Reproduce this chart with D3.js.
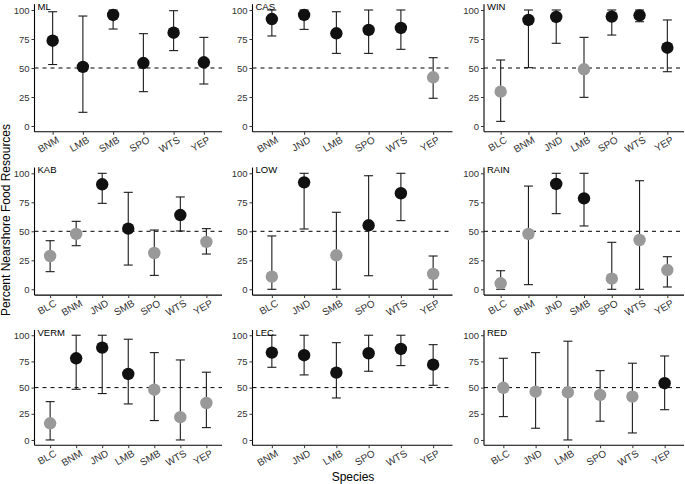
<!DOCTYPE html>
<html>
<head>
<meta charset="utf-8">
<script src="https://cdn.jsdelivr.net/npm/d3@7"></script>
<style>
  body { margin: 0; background: #fff; }
  svg { font-family: "Liberation Sans", Arial, sans-serif; }
</style>
</head>
<body>
<div id="chart"></div>
<script>
// one entry per facet, read left-to-right, top-to-bottom
var sites = ["ML", "CAS", "WIN", "KAB", "LOW", "RAIN", "VERM", "LEC", "RED"];

var speciesBySite = [
    ["BNM", "LMB", "SMB", "SPO", "WTS", "YEP"],
    ["BNM", "JND", "LMB", "SPO", "WTS", "YEP"],
    ["BLC", "BNM", "JND", "LMB", "SPO", "WTS", "YEP"],
    ["BLC", "BNM", "JND", "SMB", "SPO", "WTS", "YEP"],
    ["BLC", "JND", "SMB", "SPO", "WTS", "YEP"],
    ["BLC", "BNM", "JND", "SMB", "SPO", "WTS", "YEP"],
    ["BLC", "BNM", "JND", "LMB", "SMB", "WTS", "YEP"],
    ["BNM", "JND", "LMB", "SPO", "WTS", "YEP"],
    ["BLC", "JND", "LMB", "SPO", "WTS", "YEP"]
];

var meanBySite = [
    [73.5, 51, 95.7, 54.3, 80.4, 54.9],
    [92.2, 95.7, 79.9, 82.8, 84.5, 42],
    [29.6, 91.4, 94, 48.9, 94.3, 95.4, 67.5],
    [28.7, 47.7, 90.5, 52.3, 31.3, 64, 40.8],
    [10.9, 92.2, 29.3, 55.2, 82.8, 13.2],
    [5.2, 47.7, 90.8, 78.4, 9.2, 42.5, 16.6],
    [15.9, 78, 88.2, 63, 48, 21.7, 35.3],
    [83.4, 80.9, 64.3, 82.8, 86.9, 71.9],
    [49.8, 46.1, 45.5, 43, 41.4, 54.2]
];

var lowBySite = [
    [53, 11.8, 83.6, 29.6, 65, 36.2],
    [77.6, 83.3, 62.6, 62.6, 66.1, 23.9],
    [4, 50.3, 71.3, 24.7, 78.4, 89.9, 46.8],
    [15.2, 37.6, 74.1, 20.9, 12, 50.3, 30.4],
    [0, 52, 0, 11.7, 59.2, 0],
    [0, 4, 65.2, 54.6, 0, 0, 2],
    [0, 48.4, 44.3, 34.4, 18.5, 0, 11.8],
    [69.4, 62.1, 40.1, 65.6, 71, 52.2],
    [22.3, 11.2, 0, 17.9, 6.7, 28.9]
];

var highBySite = [
    [98.5, 94.8, 100, 79.6, 99.4, 76.4],
    [100, 100, 98.5, 100, 100, 58.9],
    [56.9, 100, 100, 76.4, 100, 100, 91.4],
    [41.9, 58.6, 100, 83.6, 51.1, 79.6, 52.3],
    [46, 100, 66.4, 97.9, 100, 28.7],
    [16, 89, 100, 100, 40.5, 93.6, 28.1],
    [36.6, 100, 100, 96.2, 83.4, 76.4, 64.7],
    [100, 100, 92.9, 100, 100, 91],
    [78, 83.4, 94.3, 66.2, 73.3, 80.2]
];

var yTicks = [0, 25, 50, 75, 100];
var threshold = 50;

var W = 685, H = 484;
// panel frames (pixel rectangles of the three columns / rows)
var colX = [[34.5, 222], [252.5, 452.5], [484, 684]];
var rowY = [[4.2, 131.8], [167.5, 295.1], [330, 445.2]];

var svg = d3.select("#chart").append("svg")
    .attr("width", W)
    .attr("height", H);

sites.forEach(function(site, i) {
    var cx = colX[i % 3], ry = rowY[Math.floor(i / 3)];
    var species = speciesBySite[i];
    var rows = species.map(function(s, k) {
        return {sp: s, mean: meanBySite[i][k], lo: lowBySite[i][k], hi: highBySite[i][k]};
    });

    // ggplot-ish expansion: 0.6 units for discrete, 5% for continuous
    var x = d3.scalePoint().domain(species).range(cx).padding(0.6);
    var y = d3.scaleLinear().domain([-5, 105]).range([ry[1], ry[0]]);

    var g = svg.append("g");

    // reference line
    g.append("line")
        .attr("x1", cx[0]).attr("x2", cx[1])
        .attr("y1", y(threshold)).attr("y2", y(threshold))
        .attr("stroke", "#000")
        .attr("stroke-width", 1)
        .attr("stroke-dasharray", "4,4");

    // error bars
    var eb = g.append("g").selectAll("g").data(rows).enter().append("g")
        .attr("stroke", "#1a1a1a").attr("stroke-width", 1.1);
    eb.append("line")
        .attr("x1", function(d) { return x(d.sp); })
        .attr("x2", function(d) { return x(d.sp); })
        .attr("y1", function(d) { return y(d.lo); })
        .attr("y2", function(d) { return y(d.hi); });
    eb.append("line")
        .attr("x1", function(d) { return x(d.sp) - 4.5; })
        .attr("x2", function(d) { return x(d.sp) + 4.5; })
        .attr("y1", function(d) { return y(d.hi); })
        .attr("y2", function(d) { return y(d.hi); });
    eb.append("line")
        .attr("x1", function(d) { return x(d.sp) - 4.5; })
        .attr("x2", function(d) { return x(d.sp) + 4.5; })
        .attr("y1", function(d) { return y(d.lo); })
        .attr("y2", function(d) { return y(d.lo); });

    // points, black above the 50% line, grey below
    g.append("g").selectAll("circle").data(rows).enter().append("circle")
        .attr("cx", function(d) { return x(d.sp); })
        .attr("cy", function(d) { return y(d.mean); })
        .attr("r", 6.2)
        .attr("fill", function(d) { return d.mean > threshold ? "#111" : "#999"; });

    // axes
    var yAxis = g.append("g")
        .attr("transform", "translate(" + cx[0] + ",0)")
        .call(d3.axisLeft(y).tickValues(yTicks).tickSize(3).tickPadding(2));
    var xAxis = g.append("g")
        .attr("transform", "translate(0," + ry[1] + ")")
        .call(d3.axisBottom(x).tickSize(3).tickPadding(2));

    [yAxis, xAxis].forEach(function(ax) {
        ax.select(".domain").attr("stroke", "#000").attr("stroke-width", 1.1);
        ax.selectAll(".tick line").attr("stroke", "#333");
        ax.selectAll("text").attr("fill", "#333").style("font-size", "9.5px");
    });
    yAxis.select(".domain").attr("d", "M0," + ry[1] + "V" + ry[0]);
    xAxis.select(".domain").attr("d", "M" + cx[0] + ",0H" + cx[1]);

    xAxis.selectAll(".tick text")
        .style("font-size", "10px")
        .attr("text-anchor", "end")
        .attr("x", 3)
        .attr("y", 4)
        .attr("dy", "0.71em")
        .attr("transform", "rotate(-30 3 4)");

    // facet label
    g.append("text")
        .attr("x", cx[0] + 3)
        .attr("y", ry[0] + 5.5)
        .style("font-size", "9.5px")
        .attr("fill", "#000")
        .text(site);
});

svg.append("text")
    .attr("transform", "translate(9.8,220) rotate(-90)")
    .attr("text-anchor", "middle")
    .style("font-size", "12px")
    .text("Percent Nearshore Food Resources");

svg.append("text")
    .attr("x", 353)
    .attr("y", 481)
    .attr("text-anchor", "middle")
    .style("font-size", "12px")
    .text("Species");
</script>
</body>
</html>
